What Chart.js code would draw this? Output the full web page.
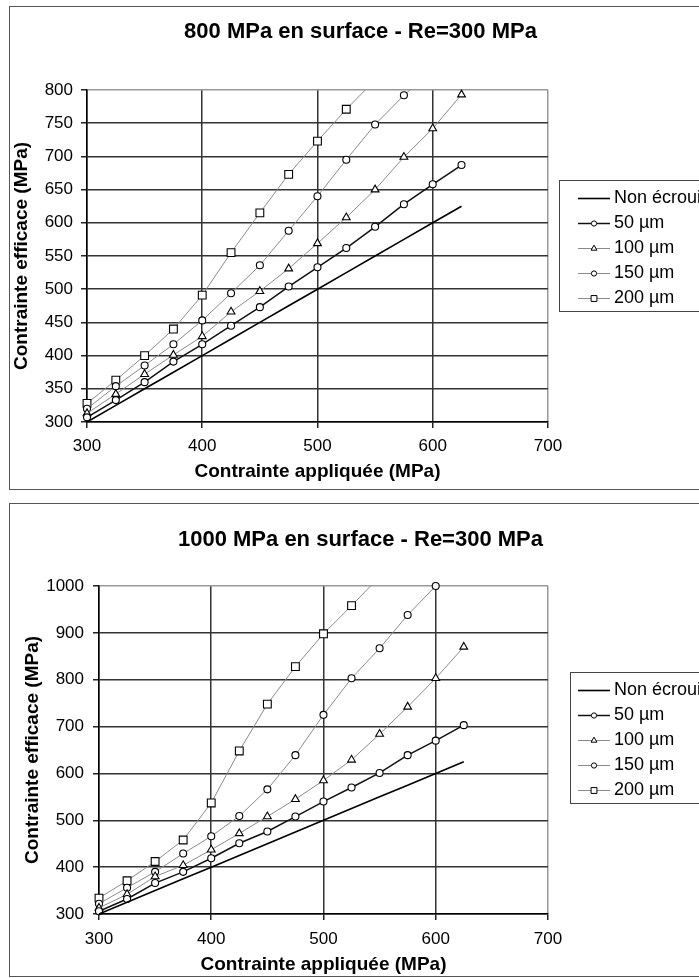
<!DOCTYPE html>
<html>
<head>
<meta charset="utf-8">
<title>Contrainte efficace - écrouissage</title>
<script src="https://cdn.jsdelivr.net/npm/chart.js@4.4.1/dist/chart.umd.min.js"></script>
<style>
  html, body { margin: 0; padding: 0; background: #fff; overflow: hidden; width: 699px; height: 978px; }
  .frame { position: absolute; left: 9px; border: 1px solid #555; background: #fff; }
  #frame1 { top: 6px; width: 701px; height: 482px; }
  #frame2 { top: 503px; width: 701px; height: 472px; }
  canvas { display: block; }
</style>
</head>
<body>
<div class="frame" id="frame1"><canvas id="chart1" width="701" height="482"></canvas></div>
<div class="frame" id="frame2"><canvas id="chart2" width="701" height="472"></canvas></div>
<script>
// x values (contrainte appliquée, MPa)
const appliedStress = [300, 325, 350, 375, 400, 425, 450, 475, 500, 525, 550, 575, 600, 625];
const seriesLabels = ['Non écroui', '50 µm', '100 µm', '150 µm', '200 µm'];
const xTicks = [300, 400, 500, 600, 700];

// 800 MPa en surface
const yTicks800 = [300, 350, 400, 450, 500, 550, 600, 650, 700, 750, 800];
const nonEcroui800 = [300, 325, 350, 375, 400, 425, 450, 475, 500, 525, 550, 575, 600, 625];
const s800_50 = [307, 333, 360, 391, 417, 445, 473, 504, 533, 562, 594, 628, 658, 687];
const s800_100 = [313, 342, 372, 401, 429, 466, 497, 531, 569, 608, 650, 699, 742, 793];
const s800_150 = [320, 354, 385, 417, 453, 494, 536, 588, 640, 695, 748, 792, 830];
const s800_200 = [328, 363, 400, 440, 491, 555, 615, 673, 723, 771, 815];

// 1000 MPa en surface
const yTicks1000 = [300, 400, 500, 600, 700, 800, 900, 1000];
const nonEcroui1000 = [300, 325, 350, 375, 400, 425, 450, 475, 500, 525, 550, 575, 600, 625];
const s1000_50 = [306, 332, 366, 390, 419, 451, 476, 508, 540, 570, 601, 639, 670, 703];
const s1000_100 = [313, 342, 380, 404, 437, 472, 508, 545, 585, 629, 684, 742, 803, 870];
const s1000_150 = [322, 356, 390, 429, 466, 509, 566, 639, 725, 803, 867, 938, 1000];
const s1000_200 = [334, 371, 412, 458, 537, 648, 748, 828, 898, 958, 1020];

Chart.defaults.font.family = "'Liberation Sans', Arial, sans-serif";
Chart.defaults.color = '#000';

const seriesStyles = [
  { color: '#000', width: 1.6, point: null },
  { color: '#111', width: 1.5, point: 'circle', r: 3.5 },
  { color: '#8a8a8a', width: 1, point: 'triangle', r: 4.5 },
  { color: '#8a8a8a', width: 1, point: 'circle', r: 3.5 },
  { color: '#8a8a8a', width: 1, point: 'rect', r: 5.5 }
];

// small line + marker picture for the legend
function legendIcon(st) {
  const c = document.createElement('canvas');
  c.width = 64; c.height = 20;
  const g = c.getContext('2d');
  g.strokeStyle = st.color;
  g.lineWidth = st.width;
  g.beginPath(); g.moveTo(30, 10.5); g.lineTo(62, 10.5); g.stroke();
  if (st.point) {
    const r = st.r * 0.75, cx = 46, cy = 10.5;
    g.fillStyle = '#fff'; g.strokeStyle = '#000'; g.lineWidth = 1;
    g.beginPath();
    if (st.point === 'circle') g.arc(cx, cy, r, 0, Math.PI * 2);
    else if (st.point === 'triangle') { g.moveTo(cx, cy - r); g.lineTo(cx + r * 0.87, cy + r / 2); g.lineTo(cx - r * 0.87, cy + r / 2); g.closePath(); }
    else { const h = r * 0.71; g.rect(cx - h, cy - h, 2 * h, 2 * h); }
    g.fill(); g.stroke();
  }
  return c;
}

const legendFrame = {
  id: 'legendFrame',
  afterDraw(chart, args, opts) {
    const boxes = chart.legend && chart.legend.legendHitBoxes;
    if (!boxes || !boxes.length) return;
    const first = boxes[0], last = boxes[boxes.length - 1];
    const top = Math.round(first.top - 9) + 0.5;
    const bottom = Math.round(last.top + last.height + 4) + 0.5;
    const ctx = chart.ctx;
    ctx.save();
    ctx.strokeStyle = '#444';
    ctx.lineWidth = 1;
    ctx.strokeRect(Math.round(chart.legend.left + opts.offset) + 0.5, top, chart.width, bottom - top);
    ctx.restore();
  }
};

function buildChart(id, cfg) {
  const yMin = cfg.yTicks[0], yMax = cfg.yTicks[cfg.yTicks.length - 1];
  const datasets = cfg.series.map((values, i) => {
    const st = seriesStyles[i];
    return {
      label: seriesLabels[i],
      data: values.map((v, k) => ({ x: appliedStress[k], y: v })),
      borderColor: st.color,
      borderWidth: st.width,
      pointStyle: st.point || 'circle',
      pointRadius: st.point ? st.r : 0,
      pointBackgroundColor: '#fff',
      pointBorderColor: '#000',
      pointBorderWidth: 1.1,
      tension: 0,
      clip: { left: 10, right: 10, bottom: 10, top: values.every(v => v <= yMax) ? 6 : 0 }
    };
  });

  return new Chart(document.getElementById(id), {
    type: 'line',
    data: { datasets },
    plugins: [legendFrame],
    options: {
      responsive: false,
      devicePixelRatio: 1,
      animation: false,
      events: [],
      layout: { padding: 0 },
      plugins: {
        title: {
          display: true,
          text: cfg.title,
          font: { size: 22, weight: 'bold' },
          color: '#000',
          padding: cfg.titlePad
        },
        legend: {
          position: 'right',
          labels: {
            usePointStyle: true,
            pointStyleWidth: 50,
            padding: 7,
            color: '#000',
            font: { size: 18 },
            generateLabels: chart => Chart.defaults.plugins.legend.labels.generateLabels(chart)
              .map(item => Object.assign(item, { pointStyle: legendIcon(seriesStyles[item.datasetIndex]) }))
          }
        },
        legendFrame: { offset: cfg.legendOffset },
        tooltip: { enabled: false }
      },
      scales: {
        x: {
          type: 'linear',
          min: xTicks[0],
          max: xTicks[xTicks.length - 1],
          ticks: { stepSize: xTicks[1] - xTicks[0], padding: cfg.xTickPad, font: { size: 17 }, color: '#000', callback: v => String(v) },
          grid: {
            color: c => c.tick && c.tick.value === xTicks[xTicks.length - 1] ? '#999' : '#333',
            lineWidth: 1.5,
            tickLength: 6,
            tickColor: '#222'
          },
          border: { color: '#000', width: 1.5 },
          title: {
            display: true,
            text: 'Contrainte appliquée (MPa)',
            font: { size: 19, weight: 'bold' },
            color: '#000',
            padding: { top: 0, bottom: cfg.xTitlePad }
          },
          afterFit: s => { s.height = cfg.xHeight; }
        },
        y: {
          min: yMin,
          max: yMax,
          ticks: { stepSize: cfg.yTicks[1] - cfg.yTicks[0], padding: cfg.yTickPad, font: { size: 17 }, color: '#000', callback: v => String(v) },
          grid: {
            color: c => c.tick && c.tick.value === yMax ? '#999' : '#333',
            lineWidth: 1.5,
            tickLength: 6,
            tickColor: '#222'
          },
          border: { color: '#000', width: 1.5 },
          title: {
            display: true,
            text: 'Contrainte efficace (MPa)',
            font: { size: 19, weight: 'bold' },
            color: '#000',
            padding: { top: cfg.yTitlePad, bottom: 0 }
          },
          afterFit: s => { s.width = cfg.yWidth; }
        }
      }
    }
  });
}

buildChart('chart1', {
  title: '800 MPa en surface - Re=300 MPa',
  yTicks: yTicks800,
  series: [nonEcroui800, s800_50, s800_100, s800_150, s800_200],
  titlePad: { top: 12, bottom: 44.6 },
  xHeight: 67, xTickPad: 8, xTitlePad: 5.6,
  yWidth: 77, yTickPad: 8, yTitlePad: 0.6,
  legendOffset: 11
});

buildChart('chart2', {
  title: '1000 MPa en surface - Re=300 MPa',
  yTicks: yTicks1000,
  series: [nonEcroui1000, s1000_50, s1000_100, s1000_150, s1000_200],
  titlePad: { top: 22.8, bottom: 32.8 },
  xHeight: 62, xTickPad: 9, xTitlePad: 0,
  yWidth: 89, yTickPad: 9, yTitlePad: 11.6,
  legendOffset: 22
});
</script>
</body>
</html>
